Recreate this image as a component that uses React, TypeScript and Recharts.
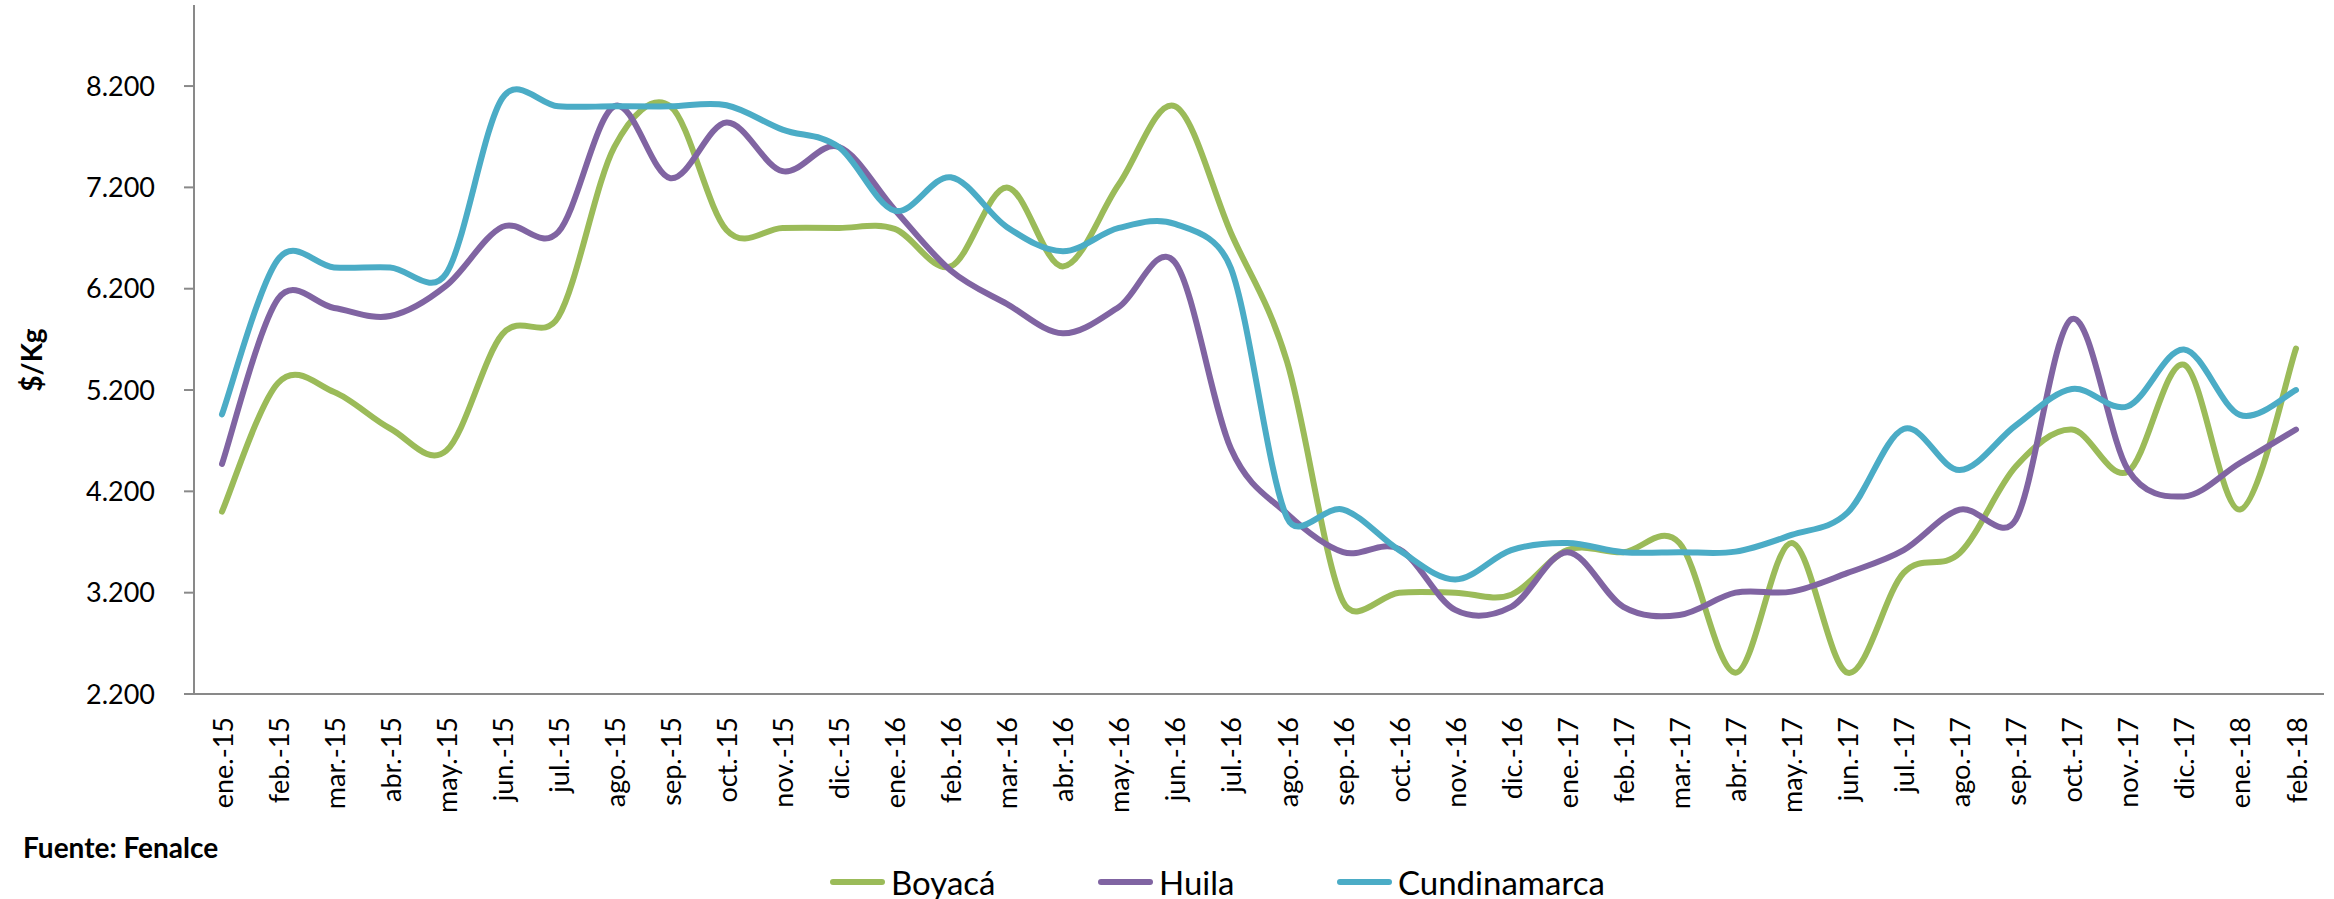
import React from 'react';
import { LineChart, Line, XAxis, YAxis, Legend } from 'recharts';

const months = [
  'ene.-15', 'feb.-15', 'mar.-15', 'abr.-15', 'may.-15', 'jun.-15', 'jul.-15', 'ago.-15', 'sep.-15', 'oct.-15', 'nov.-15', 'dic.-15',
  'ene.-16', 'feb.-16', 'mar.-16', 'abr.-16', 'may.-16', 'jun.-16', 'jul.-16', 'ago.-16', 'sep.-16', 'oct.-16', 'nov.-16', 'dic.-16',
  'ene.-17', 'feb.-17', 'mar.-17', 'abr.-17', 'may.-17', 'jun.-17', 'jul.-17', 'ago.-17', 'sep.-17', 'oct.-17', 'nov.-17', 'dic.-17',
  'ene.-18', 'feb.-18',
];

const boyaca = [
  4000, 5270, 5180, 4820, 4600, 5750, 5920, 7600, 8000, 6780, 6800, 6800,
  6790, 6420, 7200, 6420, 7230, 8000, 6750, 5480, 3110, 3200, 3200, 3180,
  3620, 3600, 3690, 2410, 3690, 2410, 3395, 3590, 4445, 4810, 4395, 5450,
  4020, 5610,
];

const huila = [
  4470, 6100, 6010, 5930, 6230, 6810, 6760, 8000, 7290, 7840, 7360, 7600,
  6980, 6380, 6050, 5760, 6020, 6460, 4620, 3980, 3600, 3630, 3030, 3060,
  3600, 3060, 2980, 3200, 3210, 3395, 3620, 4020, 3920, 5900, 4415, 4150,
  4480, 4810,
];

const cundinamarca = [
  4960, 6490, 6410, 6410, 6350, 8080, 8000, 8000, 8000, 8010, 7770, 7600,
  6970, 7300, 6810, 6570, 6800, 6840, 6400, 3940, 4020, 3620, 3330, 3620,
  3690, 3600, 3600, 3605, 3770, 3990, 4815, 4410, 4850, 5210, 5040, 5600,
  4955, 5200,
];

const yTicks = [2200, 3200, 4200, 5200, 6200, 7200, 8200];

const series = [
  { key: 'boyaca', name: 'Boyacá', color: '#9BBB59' },
  { key: 'huila', name: 'Huila', color: '#8064A2' },
  { key: 'cundinamarca', name: 'Cundinamarca', color: '#4BACC6' },
];

const legendLeft = [830, 1098, 1337];

const data = months.map((month, i) => ({
  month,
  boyaca: boyaca[i],
  huila: huila[i],
  cundinamarca: cundinamarca[i],
}));

const axisGray = '#898989';

// smoothed line like Excel's: Catmull-Rom through every point,
// control handles capped at half the segment so steep drops don't overshoot much
const excelCurve = (context: any) => {
  let pts: [number, number][] = [];
  const handle = (a: [number, number], b: [number, number], seg: number) => {
    const dx = b[0] - a[0];
    const dy = b[1] - a[1];
    const len = Math.hypot(dx, dy);
    if (!len) return [0, 0];
    const d = Math.min(len / 6, seg / 2);
    return [(dx / len) * d, (dy / len) * d];
  };
  return {
    areaStart() {},
    areaEnd() {},
    lineStart() {
      pts = [];
    },
    point(x: number, y: number) {
      pts.push([+x, +y]);
    },
    lineEnd() {
      if (!pts.length) return;
      context.moveTo(pts[0][0], pts[0][1]);
      for (let i = 0; i < pts.length - 1; i++) {
        const p0 = pts[i - 1] || pts[i];
        const p1 = pts[i];
        const p2 = pts[i + 1];
        const p3 = pts[i + 2] || p2;
        const seg = Math.hypot(p2[0] - p1[0], p2[1] - p1[1]);
        const h1 = handle(p0, p2, seg);
        const h2 = handle(p1, p3, seg);
        context.bezierCurveTo(p1[0] + h1[0], p1[1] + h1[1], p2[0] - h2[0], p2[1] - h2[1], p2[0], p2[1]);
      }
    },
  };
};

const fmt = (v: number) => String(v).replace(/\B(?=(\d{3})+(?!\d))/g, '.');

const MonthTick = ({ x, y, payload }: any) => (
  <g transform={`translate(${x},${y}) rotate(-90)`}>
    <text x={0} y={0} textAnchor="end" dominantBaseline="central" fontSize={27} fill="#000">
      {payload.value}
    </text>
  </g>
);

const renderLegend = () => (
  <div style={{ position: 'relative', width: 2334, height: 50 }}>
    {series.map((s, i) => (
      <div
        key={s.key}
        style={{ position: 'absolute', left: legendLeft[i], top: 0, height: 50, display: 'flex', alignItems: 'center' }}
      >
        <span style={{ display: 'inline-block', width: 55, height: 6, borderRadius: 3, background: s.color, marginRight: 6 }} />
        <span style={{ fontSize: 33, color: '#000' }}>{s.name}</span>
      </div>
    ))}
  </div>
);

export default function App() {
  return (
    <div
      style={{
        position: 'absolute',
        left: 0,
        top: 0,
        width: 2334,
        height: 899,
        background: '#fff',
        fontFamily: 'Lato, sans-serif',
      }}
    >
      <LineChart width={2334} height={899} data={data} margin={{ top: 5, right: 10, bottom: 0, left: 0 }}>
        <XAxis
          dataKey="month"
          interval={0}
          height={205}
          padding={{ left: 28, right: 28 }}
          tickLine={false}
          tickSize={0}
          tickMargin={23}
          tick={<MonthTick />}
          axisLine={{ stroke: axisGray, strokeWidth: 2 }}
        />
        <XAxis
          xAxisId="top"
          orientation="top"
          dataKey="month"
          height={0}
          padding={{ left: 28, right: 28 }}
          tick={false}
          tickLine={false}
          axisLine={{ stroke: axisGray, strokeWidth: 2 }}
        />
        <YAxis
          width={194}
          type="number"
          domain={[2200, 9000]}
          ticks={yTicks}
          tickFormatter={fmt}
          tick={{ fontSize: 27, fill: '#000' }}
          tickSize={10}
          tickMargin={29}
          axisLine={{ stroke: axisGray, strokeWidth: 2 }}
          tickLine={{ stroke: axisGray, strokeWidth: 2 }}
        />
        <YAxis
          yAxisId="right"
          orientation="right"
          width={0}
          domain={[2200, 9000]}
          tick={false}
          tickLine={false}
          axisLine={{ stroke: axisGray, strokeWidth: 2 }}
        />
        <Legend
          layout="horizontal"
          align="center"
          verticalAlign="middle"
          content={renderLegend}
          wrapperStyle={{ left: 0, top: 857, width: 2334, height: 50 }}
        />
        {series.map((s) => (
          <Line
            key={s.key}
            dataKey={s.key}
            name={s.name}
            type={excelCurve as any}
            stroke={s.color}
            strokeWidth={6}
            strokeLinecap="round"
            dot={false}
            activeDot={false}
            isAnimationActive={false}
          />
        ))}
      </LineChart>
      <div
        style={{
          position: 'absolute',
          left: 31,
          top: 360,
          transform: 'translate(-50%, -50%) rotate(-90deg)',
          fontSize: 28,
          fontWeight: 700,
          whiteSpace: 'nowrap',
        }}
      >
        $/Kg
      </div>
      <div style={{ position: 'absolute', left: 23, top: 830, fontSize: 28, fontWeight: 700, whiteSpace: 'nowrap' }}>
        Fuente: Fenalce
      </div>
    </div>
  );
}
